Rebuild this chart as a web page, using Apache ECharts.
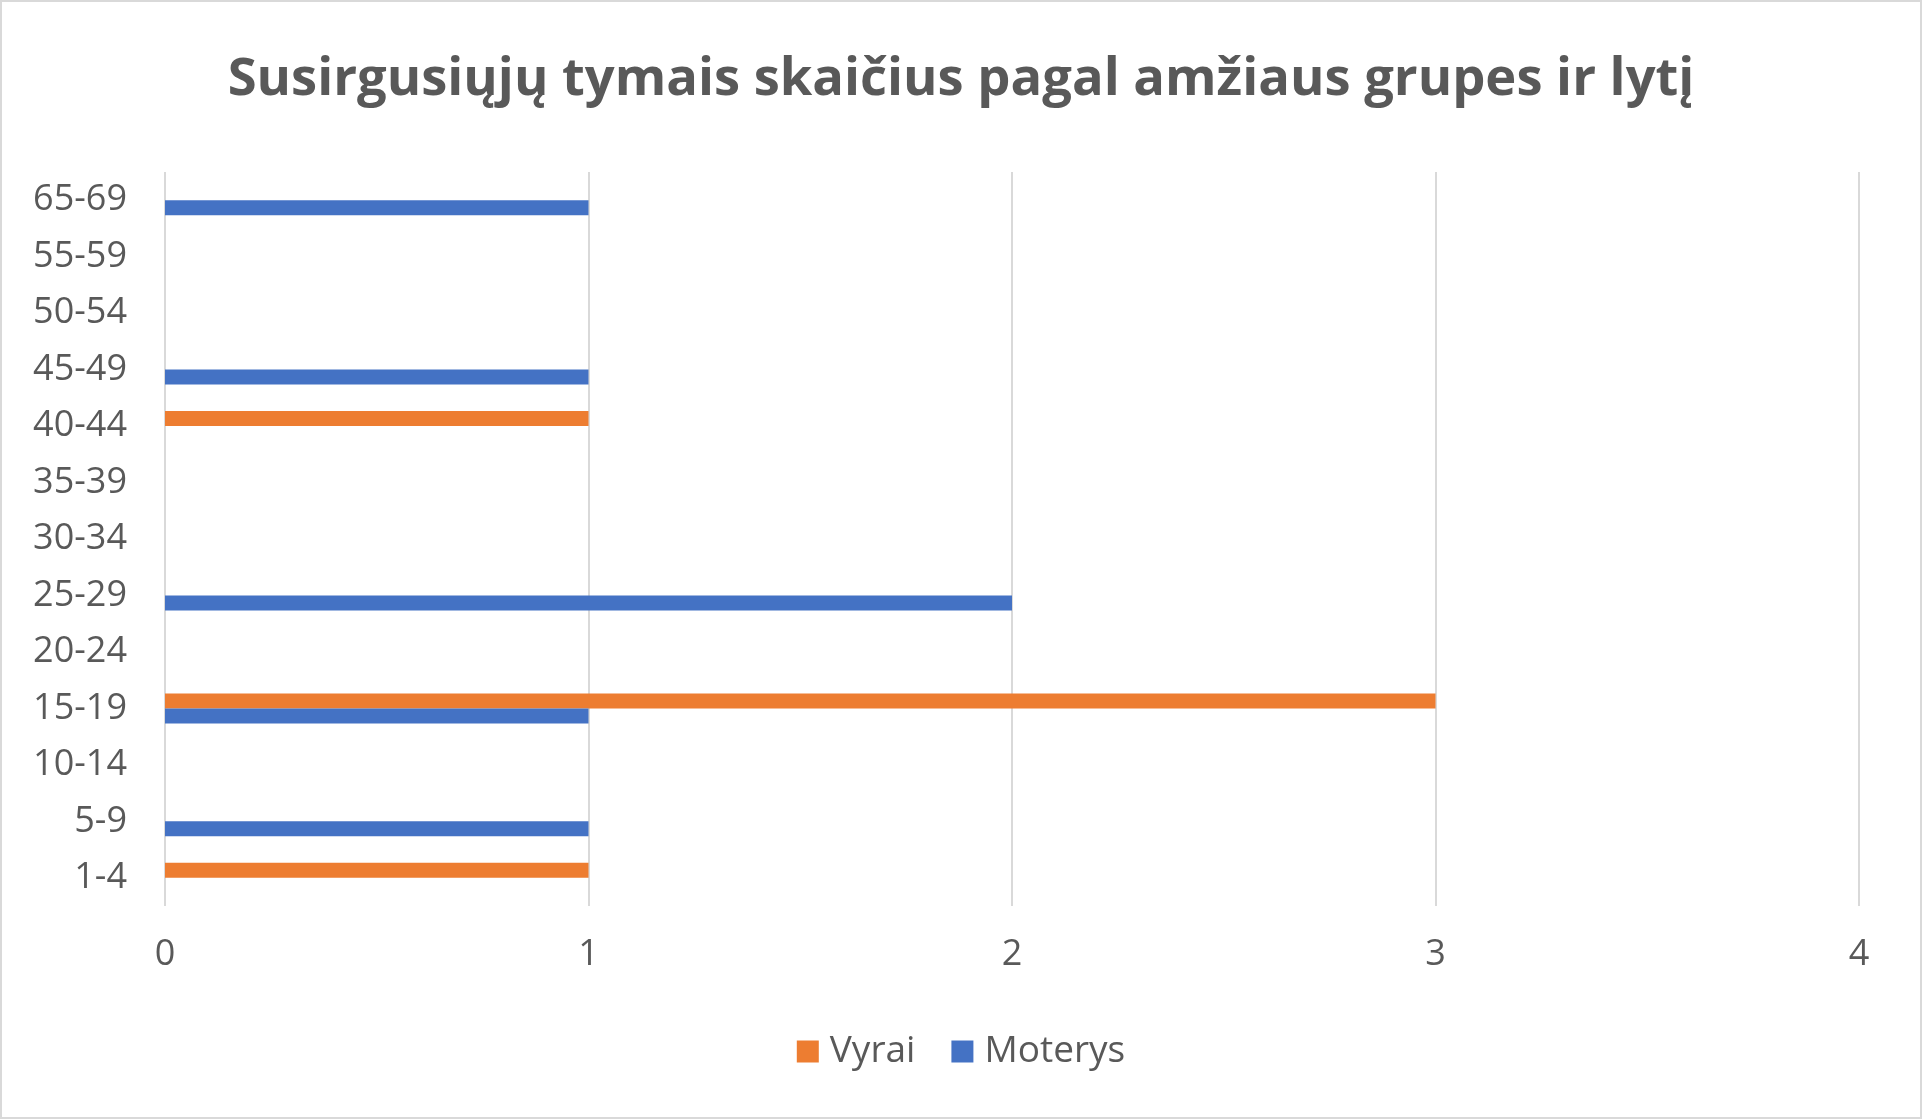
<!DOCTYPE html>
<html>
<head>
<meta charset="utf-8">
<title>Susirgusiųjų tymais skaičius</title>
<script src="https://cdn.jsdelivr.net/npm/echarts@6/dist/echarts.min.js"></script>
<style>
  html, body { margin: 0; padding: 0; background: #fff; }
  #main {
    width: 1922px;
    height: 1119px;
    box-sizing: border-box;
    border: 2px solid #d9d9d9;
  }
</style>
</head>
<body>
<div id="main"></div>
<script>
// amžiaus grupės (nuo apačios į viršų)
const ageGroups = ['1-4', '5-9', '10-14', '15-19', '20-24', '25-29', '30-34', '35-39', '40-44', '45-49', '50-54', '55-59', '65-69']
// Vyrai
const menValues = [1, 0, 0, 3, 0, 0, 0, 0, 1, 0, 0, 0, 0]
// Moterys
const womenValues = [0, 1, 0, 1, 0, 2, 0, 0, 0, 1, 0, 0, 1]
const seriesNames = ['Vyrai', 'Moterys']
const xTicks = { min: 0, max: 4, interval: 1 }

const textColor = '#595959'
const fontFamily = '"Open Sans", "Liberation Sans", sans-serif'

const chart = echarts.init(document.getElementById('main'))

chart.setOption({
  animation: false,
  title: {
    text: 'Susirgusiųjų tymais skaičius pagal amžiaus grupes ir lytį',
    left: 'center',
    top: 47,
    textStyle: {
      color: textColor,
      fontFamily: fontFamily,
      fontWeight: 'bold',
      fontSize: 52.5
    }
  },
  legend: {
    data: seriesNames,
    left: 'center',
    top: 1026,
    itemWidth: 22,
    itemHeight: 22,
    itemGap: 36,
    icon: 'rect',
    textStyle: {
      color: textColor,
      fontFamily: fontFamily,
      fontSize: 37,
      padding: [0, 0, 0, 6]
    }
  },
  grid: {
    left: 163,
    right: 61,
    top: 170,
    bottom: 211
  },
  xAxis: {
    type: 'value',
    min: xTicks.min,
    max: xTicks.max,
    interval: xTicks.interval,
    axisLine: { show: false },
    axisTick: { show: false },
    splitLine: {
      show: true,
      lineStyle: { color: '#d9d9d9', width: 2 }
    },
    axisLabel: {
      color: textColor,
      fontFamily: fontFamily,
      fontSize: 36,
      margin: 31
    }
  },
  yAxis: {
    type: 'category',
    data: ageGroups,
    axisLine: { show: false },
    axisTick: { show: false },
    axisLabel: {
      color: textColor,
      fontFamily: fontFamily,
      fontSize: 36,
      margin: 38
    }
  },
  series: [
    {
      name: seriesNames[0],
      type: 'bar',
      data: menValues,
      barWidth: 15,
      barGap: '0%',
      itemStyle: { color: '#ED7D31' }
    },
    {
      name: seriesNames[1],
      type: 'bar',
      data: womenValues,
      barWidth: 15,
      barGap: '0%',
      itemStyle: { color: '#4472C4' }
    }
  ]
})
</script>
</body>
</html>
